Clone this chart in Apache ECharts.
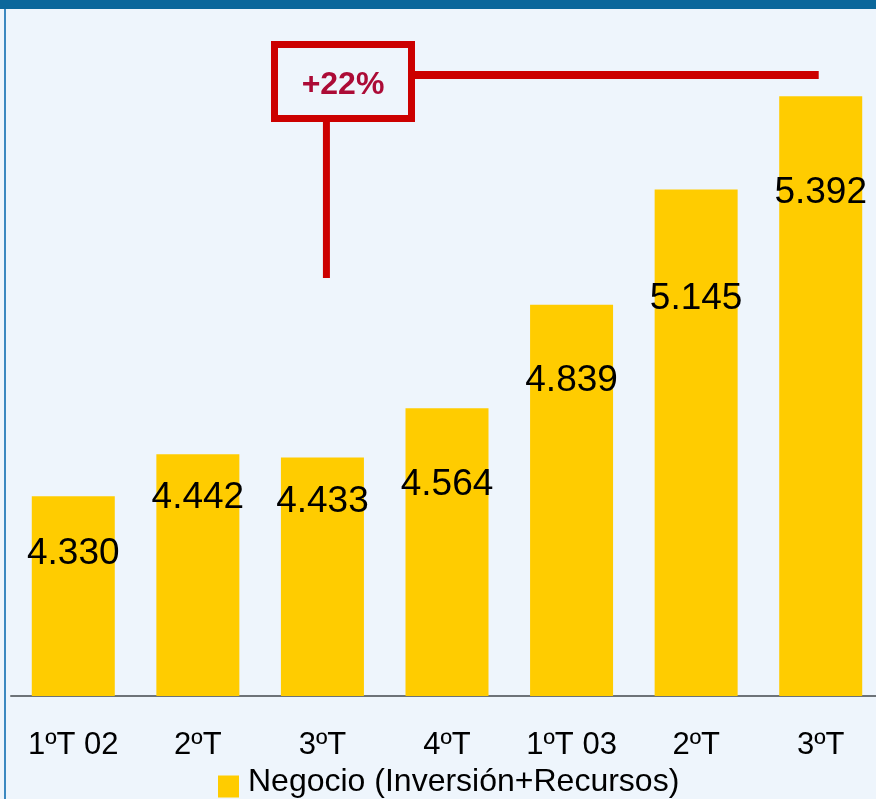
<!DOCTYPE html>
<html lang="es">
<head>
  <meta charset="UTF-8">
  <title>Negocio (Inversión+Recursos)</title>
  <script src="https://cdn.jsdelivr.net/npm/echarts@6/dist/echarts.min.js"></script>
  <style>
    html, body {
      margin: 0;
      padding: 0;
      background-color: #eef5fc;
    }
    #chart {
      width: 876px;
      height: 799px;
    }
  </style>
</head>
<body>
  <div id="chart"></div>

  <script>
    // datos
    var categorias = ['1ºT 02', '2ºT', '3ºT', '4ºT', '1ºT 03', '2ºT', '3ºT'];
    var negocio = [4330, 4442, 4433, 4564, 4839, 5145, 5392];
    var nombreSerie = 'Negocio (Inversión+Recursos)';
    var crecimiento = '+22%';

    // desplazamiento de cada etiqueta bajo el borde superior de la barra (px)
    var bajadaEtiqueta = [57, 44, 44, 77, 76, 109, 96];

    var myChart = echarts.init(document.getElementById('chart'));

    var fuente = '"Liberation Sans", Arial, sans-serif';

    var option = {
      backgroundColor: '#eef5fc',
      animation: false,
      grid: {
        left: 11,
        width: 872,
        top: 18,
        bottom: 103,
        outerBoundsMode: 'none'
      },
      legend: {
        data: [nombreSerie],
        left: 218,
        top: 766,
        padding: 0,
        icon: 'rect',
        itemWidth: 21,
        itemHeight: 22,
        formatter: '{t|{name}}',
        textStyle: {
          fontFamily: fuente,
          fontSize: 32,
          color: '#000',
          rich: {
            t: {
              fontFamily: fuente,
              fontSize: 32,
              color: '#000',
              padding: [0, 0, 9, 4]
            }
          }
        }
      },
      xAxis: {
        type: 'category',
        data: categorias,
        axisLine: {
          lineStyle: { color: '#6d7378', width: 2 }
        },
        axisTick: { show: false },
        axisLabel: {
          margin: 34,
          fontFamily: fuente,
          fontSize: 31,
          color: '#000'
        }
      },
      yAxis: {
        type: 'value',
        min: 3800,
        max: 5600,
        show: false,
        splitLine: { show: false }
      },
      series: [
        {
          name: nombreSerie,
          type: 'bar',
          barWidth: 83,
          itemStyle: { color: '#ffcc00' },
          data: negocio.map(function (v, i) {
            return {
              value: v,
              label: { position: ['50%', bajadaEtiqueta[i]] }
            };
          }),
          label: {
            show: true,
            align: 'center',
            verticalAlign: 'middle',
            fontFamily: fuente,
            fontSize: 37,
            color: '#000',
            formatter: function (p) {
              return (p.value / 1000).toFixed(3);
            }
          }
        }
      ]
    };

    myChart.setOption(option);

    // marco de la página y anotación del crecimiento
    var xInicio = myChart.convertToPixel({ xAxisIndex: 0 }, 2) + 4;
    var xFin = myChart.convertToPixel({ xAxisIndex: 0 }, categorias.length - 1) - 2;
    var rojo = '#cc0000';

    myChart.setOption({
      graphic: [
        {
          type: 'rect',
          shape: { x: 0, y: 0, width: 876, height: 9 },
          style: { fill: '#0b679b' }
        },
        {
          type: 'rect',
          shape: { x: 4, y: 9, width: 2, height: 790 },
          style: { fill: '#3b88c0' }
        },
        {
          type: 'line',
          shape: { x1: xInicio, y1: 122, x2: xInicio, y2: 278 },
          style: { stroke: rojo, lineWidth: 7 }
        },
        {
          type: 'line',
          shape: { x1: 415, y1: 75, x2: xFin, y2: 75 },
          style: { stroke: rojo, lineWidth: 8 }
        },
        {
          type: 'rect',
          shape: { x: 274.5, y: 44.5, width: 137, height: 74 },
          style: { fill: 'none', stroke: rojo, lineWidth: 7 }
        },
        {
          type: 'text',
          x: 343,
          y: 85,
          style: {
            text: crecimiento,
            fontFamily: fuente,
            fontWeight: 'bold',
            fontSize: 32,
            fill: '#ac0b36',
            align: 'center',
            verticalAlign: 'middle'
          }
        }
      ]
    });

    window.addEventListener('resize', function () {
      myChart.resize();
    });
  </script>
</body>
</html>
